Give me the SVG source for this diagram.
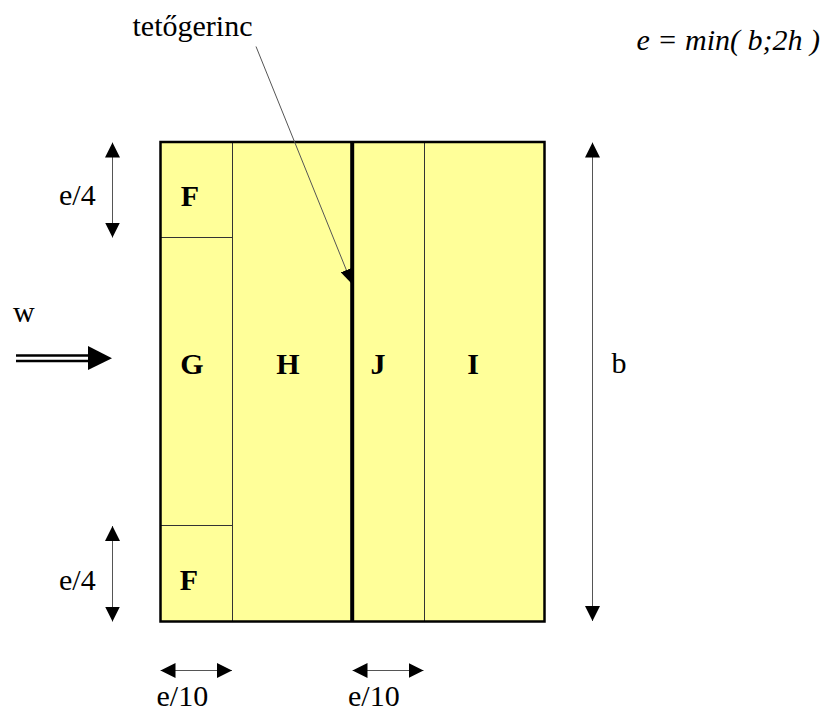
<svg xmlns="http://www.w3.org/2000/svg" width="828" height="713" viewBox="0 0 828 713">
<defs>
<style>
.zone{fill:#ffff99;stroke:#333;stroke-width:1}
.lbl{font-family:'Liberation Serif','DejaVu Serif',serif;font-size:30px;font-weight:bold;fill:#000;text-anchor:middle}
.txt{font-family:'Liberation Serif','DejaVu Serif',serif;font-size:30px;fill:#000}
.dim{stroke:#555;stroke-width:1;fill:none}
</style>
<marker id="ah" markerUnits="userSpaceOnUse" markerWidth="15" markerHeight="15" refX="15" refY="7.5" orient="auto-start-reverse" viewBox="0 0 15 15">
<path d="M0,0 L15,7.5 L0,15 z" fill="#000"/>
</marker>
<marker id="ahs" markerUnits="userSpaceOnUse" markerWidth="15" markerHeight="12" refX="15" refY="6" orient="auto" viewBox="0 0 15 12">
<path d="M0,0 L15,6 L0,12 z" fill="#000"/>
</marker>
</defs>
<rect width="828" height="713" fill="#fff"/>

<g id="zone-F-top"><rect class="zone" x="160.5" y="142" width="72" height="95.5"/><text class="lbl" x="190" y="206">F</text></g>
<g id="zone-G"><rect class="zone" x="160.5" y="237.5" width="72" height="288"/><text class="lbl" x="192" y="374">G</text></g>
<g id="zone-F-bottom"><rect class="zone" x="160.5" y="525.5" width="72" height="96"/><text class="lbl" x="189" y="590">F</text></g>
<g id="zone-H"><rect class="zone" x="232.5" y="142" width="119.5" height="479.5"/><text class="lbl" x="288" y="374">H</text></g>
<g id="zone-J"><rect class="zone" x="352" y="142" width="72.5" height="479.5"/><text class="lbl" x="378" y="374">J</text></g>
<g id="zone-I"><rect class="zone" x="424.5" y="142" width="120" height="479.5"/><text class="lbl" x="473" y="374">I</text></g>
<g id="outline">
<rect x="160.5" y="142" width="384" height="479.5" fill="none" stroke="#000" stroke-width="2.5"/>
</g>

<g id="connectors">
<line class="dim" x1="112.5" y1="142.5" x2="112.5" y2="237.5" marker-start="url(#ah)" marker-end="url(#ah)"/>
<line class="dim" x1="112.5" y1="526" x2="112.5" y2="621.5" marker-start="url(#ah)" marker-end="url(#ah)"/>
<line class="dim" x1="592.5" y1="142.5" x2="592.5" y2="621" marker-start="url(#ah)" marker-end="url(#ah)"/>
<line class="dim" x1="160.5" y1="670.5" x2="232" y2="670.5" marker-start="url(#ah)" marker-end="url(#ah)"/>
<line class="dim" x1="352.5" y1="670.5" x2="423.5" y2="670.5" marker-start="url(#ah)" marker-end="url(#ah)"/>
<line class="dim" x1="256" y1="46.5" x2="352" y2="284" marker-end="url(#ahs)"/>
<g id="wind-arrow">
<line x1="16" y1="355.5" x2="90" y2="355.5" stroke="#000" stroke-width="2.5"/>
<line x1="16" y1="361" x2="90" y2="361" stroke="#000" stroke-width="2.5"/>
<path d="M88,346 L112,358.3 L88,370 z" fill="#000"/>
</g>
</g>

<g id="ridge">
<line x1="352.2" y1="142" x2="352.2" y2="621.5" stroke="#000" stroke-width="4"/>
</g>

<g id="labels">
<text class="txt" x="132.5" y="36">tetőgerinc</text>
<text class="txt" x="820" y="50" text-anchor="end" font-style="italic">e = min( b;2h )</text>
<text class="txt" x="59" y="205">e/4</text>
<text class="txt" x="59" y="590">e/4</text>
<text class="txt" x="13" y="322">w</text>
<text class="txt" x="611.5" y="373">b</text>
<text class="txt" x="156.5" y="706">e/10</text>
<text class="txt" x="348" y="706">e/10</text>
</g>
</svg>
